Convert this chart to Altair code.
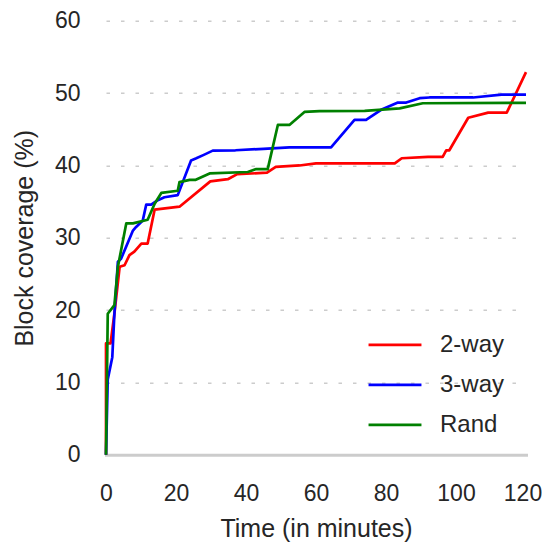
import altair as alt
import pandas as pd

# 2-way
x_2way = [0, 0, 1.3, 2.4, 3.9, 5.3, 6.7, 8.1, 10.1, 11.9, 13.9, 21, 29.8, 34.8, 37.5, 46, 48.5, 55.3, 60, 82.5, 84.5, 92, 96.2, 97.2, 98.1, 103.5, 109.2, 114.5, 120]
y_2way = [0, 15.4, 15.4, 19.5, 26, 26.2, 27.6, 28.1, 29.2, 29.2, 33.9, 34.3, 37.8, 38.1, 38.8, 39.0, 39.8, 40.0, 40.3, 40.3, 41.0, 41.2, 41.2, 42.1, 42.1, 46.6, 47.3, 47.3, 52.9]
# 3-way
x_3way = [0, 0.5, 1.8, 2.4, 3.4, 4.3, 7.7, 8.6, 10.5, 11.5, 12.9, 14.8, 16.7, 20.5, 24.3, 25.8, 28.1, 30.5, 37, 45, 52.4, 64.3, 71, 74.3, 78.6, 83.4, 85.8, 89.6, 92.4, 104.9, 113, 120]
y_3way = [0, 10.4, 13.5, 19.5, 26.7, 27.1, 31.0, 31.5, 32.4, 34.6, 34.6, 35.2, 35.6, 35.9, 40.7, 41.0, 41.5, 42.05, 42.1, 42.3, 42.5, 42.5, 46.3, 46.3, 47.7, 48.7, 48.7, 49.3, 49.4, 49.4, 49.8, 49.8]
# Rand
x_rand = [0, 0.5, 2.4, 3.4, 5.8, 7.7, 11.9, 13.9, 15.8, 20.5, 21, 23.9, 25.5, 29.6, 40.5, 42.9, 46.2, 49.1, 52.4, 56.7, 61, 73.9, 83.9, 90.5, 120]
y_rand = [0, 19.5, 20.7, 26, 32, 32, 32.5, 34.7, 36.2, 36.5, 37.7, 38.0, 38.0, 38.9, 39.1, 39.5, 39.5, 45.6, 45.6, 47.4, 47.5, 47.55, 47.9, 48.6, 48.65]

series_names = ["2-way", "3-way", "Rand"]
series_colors = ["#ff0000", "#0000ff", "#008000"]

rows = []
for name, xs, ys in zip(series_names, [x_2way, x_3way, x_rand], [y_2way, y_3way, y_rand]):
    for i, (xv, yv) in enumerate(zip(xs, ys)):
        rows.append({"series": name, "t": xv, "cov": yv, "idx": i})
df = pd.DataFrame(rows)

FONT = "Liberation Sans"
TXT = "#262626"

chart = alt.Chart(df).mark_line(strokeWidth=2.7, strokeJoin="round").encode(
    x=alt.X("t:Q", scale=alt.Scale(domain=[0, 120], nice=False),
            axis=alt.Axis(title="Time (in minutes)", values=[0, 20, 40, 60, 80, 100, 120],
                          grid=False, ticks=False, domain=True, domainColor="#cccccc",
                          domainWidth=3, domainCap="square", labelPadding=28, titlePadding=11,
                          labelFlush=False, labelOverlap=False,
                          labelOffset=alt.expr("datum.value == 120 ? -3.5 : 0"))),
    y=alt.Y("cov:Q", scale=alt.Scale(domain=[0, 60], nice=False),
            axis=alt.Axis(title="Block coverage (%)", values=[0, 10, 20, 30, 40, 50, 60],
                          grid=True, ticks=False, domain=False, labelPadding=26,
                          titlePadding=17, gridColor="#cccccc", gridDash=[3.5, 11],
                          gridWidth=1.6, labelFlush=False, labelOverlap=False)),
    color=alt.Color("series:N", scale=alt.Scale(domain=series_names, range=series_colors),
                    legend=alt.Legend(title=None, orient="none", legendX=261, legendY=296,
                                      symbolType="stroke", symbolSize=2800,
                                      symbolStrokeWidth=2.7, labelFontSize=24,
                                      labelFont=FONT, labelColor=TXT, rowPadding=-3,
                                      labelOffset=17)),
    order="idx:Q",
).properties(
    width=420, height=434,
    autosize=alt.AutoSizeParams(type="none"),
    padding={"left": 98, "top": 12.8, "right": 16, "bottom": 90},
).configure_view(stroke=None).configure_axis(
    labelFont=FONT, titleFont=FONT, labelFontSize=23, titleFontSize=25,
    labelColor=TXT, titleColor=TXT, titleFontWeight="normal"
).configure_axisY(gridOpacity=1)

chart.save("out.html", embed_options={"renderer": "svg", "actions": False})
